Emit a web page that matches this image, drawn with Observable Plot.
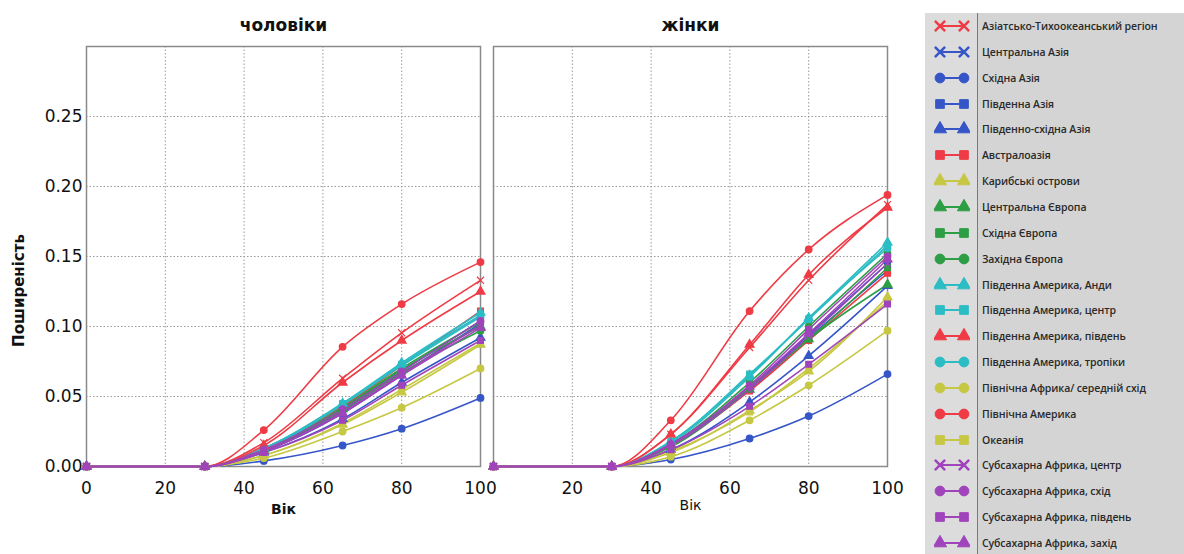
<!DOCTYPE html>
<html><head><meta charset="utf-8">
<script src="https://cdn.jsdelivr.net/npm/d3@7"></script>
<script src="https://cdn.jsdelivr.net/npm/@observablehq/plot@0.6"></script>
<style>
body{margin:0;background:#fff;}
#wrap{position:relative;width:1184px;height:554px;overflow:hidden;background:#fff;}
#chart{position:absolute;left:0;top:0;}
#legend{position:absolute;left:925px;top:13px;width:259px;height:541px;background:#d4d4d4;font-family:"Open Sans",sans-serif;}
#legend .col{position:absolute;left:0;top:0;width:52px;height:100%;background:#dcdcdc;border-right:1.5px solid #7a7a7a;}
#legend .row{position:absolute;left:0;height:26px;width:259px;display:flex;align-items:center;}
#legend .row svg{position:absolute;left:9px;}
#legend .row span{position:absolute;left:57px;font-size:10.5px;font-weight:600;color:#2a2a2a;white-space:nowrap;letter-spacing:-0.1px;}
</style></head><body>
<div id="wrap"><div id="chart"></div><div id="legend"><div class="col"></div></div></div>
<script>
const panels = ["чоловіки", "жінки"];
const ages = [0, 30, 45, 65, 80, 100];
const xTicks = [0, 20, 40, 60, 80, 100];
const yTicks = [0, 0.05, 0.10, 0.15, 0.20, 0.25];
const regions = [
  "Азіатсько-Тихоокеанський регіон", "Центральна Азія", "Східна Азія", "Південна Азія",
  "Південно-східна Азія", "Австралоазія", "Карибські острови", "Центральна Європа",
  "Східна Європа", "Західна Європа", "Південна Америка, Анди", "Південна Америка, центр",
  "Південна Америка, південь", "Південна Америка, тропіки", "Північна Африка/ середній схід",
  "Північна Америка", "Океанія", "Субсахарна Африка, центр", "Субсахарна Африка, схід",
  "Субсахарна Африка, південь", "Субсахарна Африка, захід"
];
const RED = "#ef3b45", BLUE = "#3656c8", YEL = "#c6c843", GRN = "#2d9e44", CYA = "#2cbcc4", PUR = "#a044bb";
const regionColors = [RED, BLUE, BLUE, BLUE, BLUE, RED, YEL, GRN, GRN, GRN, CYA, CYA, RED, CYA, YEL, RED, YEL, PUR, PUR, PUR, PUR];
const regionSymbols = ["times", "times", "circle", "square", "triangle", "square", "triangle", "triangle", "square", "circle",
  "triangle", "square", "triangle", "circle", "circle", "circle", "square", "times", "circle", "square", "triangle"];
// values at ages 0, 30, 45, 65, 80, 100
const menValues = [
  [0, 0, 0.017, 0.063, 0.0955, 0.133],
  [0, 0, 0.012, 0.040, 0.068, 0.104],
  [0, 0, 0.004, 0.015, 0.027, 0.049],
  [0, 0, 0.011, 0.038, 0.066, 0.102],
  [0, 0, 0.010, 0.034, 0.060, 0.092],
  [0, 0, 0.013, 0.043, 0.072, 0.111],
  [0, 0, 0.008, 0.030, 0.053, 0.087],
  [0, 0, 0.012, 0.041, 0.069, 0.100],
  [0, 0, 0.012, 0.042, 0.070, 0.103],
  [0, 0, 0.011, 0.040, 0.067, 0.097],
  [0, 0, 0.013, 0.045, 0.074, 0.110],
  [0, 0, 0.013, 0.045, 0.073, 0.108],
  [0, 0, 0.015, 0.060, 0.090, 0.125],
  [0, 0, 0.012, 0.044, 0.072, 0.107],
  [0, 0, 0.006, 0.025, 0.042, 0.070],
  [0, 0, 0.026, 0.0855, 0.116, 0.146],
  [0, 0, 0.008, 0.031, 0.055, 0.088],
  [0, 0, 0.011, 0.039, 0.066, 0.101],
  [0, 0, 0.012, 0.041, 0.068, 0.104],
  [0, 0, 0.010, 0.033, 0.058, 0.090],
  [0, 0, 0.011, 0.038, 0.065, 0.099]
];
const womenValues = [
  [0, 0, 0.023, 0.085, 0.133, 0.187],
  [0, 0, 0.016, 0.055, 0.092, 0.140],
  [0, 0, 0.005, 0.020, 0.036, 0.066],
  [0, 0, 0.015, 0.056, 0.094, 0.145],
  [0, 0, 0.012, 0.046, 0.079, 0.129],
  [0, 0, 0.015, 0.054, 0.090, 0.138],
  [0, 0, 0.010, 0.040, 0.068, 0.121],
  [0, 0, 0.014, 0.055, 0.091, 0.130],
  [0, 0, 0.015, 0.056, 0.091, 0.142],
  [0, 0, 0.016, 0.060, 0.100, 0.152],
  [0, 0, 0.018, 0.065, 0.106, 0.160],
  [0, 0, 0.018, 0.066, 0.105, 0.158],
  [0, 0, 0.023, 0.087, 0.137, 0.185],
  [0, 0, 0.017, 0.064, 0.106, 0.156],
  [0, 0, 0.007, 0.033, 0.058, 0.097],
  [0, 0, 0.033, 0.111, 0.155, 0.194],
  [0, 0, 0.011, 0.039, 0.070, 0.118],
  [0, 0, 0.015, 0.055, 0.093, 0.145],
  [0, 0, 0.016, 0.058, 0.098, 0.150],
  [0, 0, 0.012, 0.043, 0.073, 0.116],
  [0, 0, 0.016, 0.057, 0.095, 0.148]
];
const axisTitles = ["Вік", "Вік"];
const yTitle = "Поширеність";

const rows = [];
panels.forEach((panel, pi) => {
  const vals = pi === 0 ? menValues : womenValues;
  regions.forEach((region, ri) => {
    ages.forEach((age, ai) => {
      rows.push({panel, region, age, value: vals[ri][ai], color: regionColors[ri], symbol: regionSymbols[ri]});
    });
  });
});
const xTickRows = [];
panels.forEach((panel, pi) => xTicks.forEach(t => { if (!(pi === 1 && t === 0)) xTickRows.push({panel, x: t, label: String(t)}); }));

const chart = Plot.plot({
  width: 910, height: 554,
  marginLeft: 85, marginRight: 23, marginTop: 46, marginBottom: 88,
  facet: {marginTop: 0, marginBottom: 0, marginLeft: 0, marginRight: 0},
  fx: {domain: panels, paddingInner: 0.032, paddingOuter: 0},
  x: {domain: [0, 100], axis: null},
  y: {domain: [0, 0.30]},
  style: {fontFamily: "'DejaVu Sans', sans-serif", background: "white", color: "#111"},
  marks: [
    Plot.gridX({ticks: [20, 40, 60, 80], stroke: "#9a9a9a", strokeOpacity: 1, strokeDasharray: "1.5,2"}),
    Plot.gridY({ticks: yTicks.slice(1), stroke: "#9a9a9a", strokeOpacity: 1, strokeDasharray: "1.5,2"}),
    Plot.frame({stroke: "#8a8a8a", strokeWidth: 1.5}),
    Plot.axisFx({anchor: "top", label: null, tickSize: 0, tickPadding: 16, fontSize: 17, fontWeight: "bold"}),
    Plot.axisY({ticks: yTicks, tickFormat: d => d.toFixed(2), tickSize: 0, tickPadding: 4, fontSize: 17, label: null}),
    Plot.text(xTickRows, {fx: "panel", x: "x", text: "label", frameAnchor: "bottom", dy: 22, fontSize: 17, lineAnchor: "middle"}),
    Plot.text([{panel: panels[0], t: axisTitles[0]}], {fx: "panel", text: "t", frameAnchor: "bottom", dy: 43, lineAnchor: "middle", fontWeight: "bold", fontSize: 14}),
    Plot.text([{panel: panels[1], t: axisTitles[1]}], {fx: "panel", text: "t", frameAnchor: "bottom", dy: 39, lineAnchor: "middle", fontSize: 14}),
    Plot.text([{panel: panels[0], t: yTitle}], {fx: "panel", text: "t", frameAnchor: "left", textAnchor: "middle", lineAnchor: "middle", rotate: -90, dx: -67, dy: 34, fontWeight: "bold", fontSize: 15}),
    Plot.line(rows, {fx: "panel", x: "age", y: "value", z: "region", stroke: "color", curve: "monotone-x", strokeWidth: 1.6}),
    Plot.dot(rows, {fx: "panel", x: "age", y: "value", symbol: "symbol", fill: "color", stroke: "color", r: 3.3, strokeWidth: 1.2})
  ]
});
document.getElementById("chart").appendChild(chart);

// legend
const legend = d3.select("#legend");
const symMap = {times: d3.symbolTimes, circle: d3.symbolCircle, square: d3.symbolSquare, triangle: d3.symbolTriangle};
regions.forEach((region, i) => {
  const row = legend.append("div").attr("class", "row").style("top", (i * 25.85) + "px");
  const svg = row.append("svg").attr("width", 36).attr("height", 16);
  const c = regionColors[i], s = regionSymbols[i];
  svg.append("line").attr("x1", 5).attr("x2", 31).attr("y1", 8).attr("y2", 8).attr("stroke", c).attr("stroke-width", 2);
  const path = d3.symbol().type(symMap[s]).size(s === "times" ? 70 : 75)();
  [6, 30].forEach(x => {
    svg.append("path").attr("d", path).attr("transform", `translate(${x},8)`)
      .attr("fill", s === "times" ? "none" : c).attr("stroke", c).attr("stroke-width", s === "times" ? 2.5 : 1);
  });
  row.append("span").text(region);
});
</script>
</body></html>
